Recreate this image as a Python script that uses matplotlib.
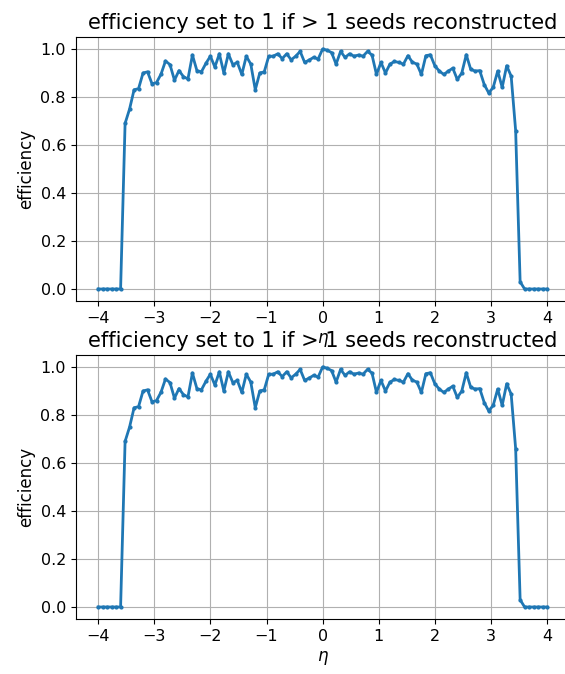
import numpy as np
import matplotlib.pyplot as plt

# eta bin positions and seed reconstruction efficiency per bin
eta = np.linspace(-4, 4, 101)
efficiency = [
    0, 0, 0, 0, 0, 0,
    0.69, 0.75, 0.83, 0.835, 0.90, 0.905, 0.855, 0.86, 0.895, 0.95,
    0.935, 0.87, 0.91, 0.885, 0.875, 0.975, 0.91, 0.905, 0.94, 0.97,
    0.925, 0.98, 0.90, 0.98, 0.935, 0.944, 0.894, 0.97, 0.937, 0.83,
    0.90, 0.905, 0.97, 0.97, 0.98, 0.96, 0.98, 0.955, 0.97, 0.99,
    0.944, 0.954, 0.965, 0.958, 1.0, 0.995, 0.985, 0.937, 0.99, 0.965,
    0.98, 0.97, 0.975, 0.97, 0.99, 0.975, 0.894, 0.944, 0.90, 0.937,
    0.948, 0.944, 0.937, 0.972, 0.945, 0.937, 0.894, 0.972, 0.976, 0.93,
    0.908, 0.894, 0.908, 0.92, 0.873, 0.90, 0.976, 0.915, 0.908, 0.91,
    0.852, 0.817, 0.84, 0.908, 0.84, 0.93, 0.887,
    0.66, 0.03,
    0, 0, 0, 0, 0, 0,
]

title = 'efficiency set to 1 if > 1 seeds reconstructed'

plt.rcParams['xtick.labelsize'] = 11.5
plt.rcParams['ytick.labelsize'] = 11.5

fig, axes = plt.subplots(2, 1, figsize=(5.65, 6.74), dpi=100)
axes[0].set_position([0.134, 0.5534, 0.874, 0.3917])
axes[1].set_position([0.134, 0.0816, 0.874, 0.3917])

for ax in axes:
    ax.plot(eta, efficiency, '.-', color='#1f77b4', linewidth=2, markersize=4)
    ax.set_title(title, fontsize=15)
    ax.set_xlabel(r'$\eta$', fontsize=12)
    ax.set_ylabel('efficiency', fontsize=12)
    ax.grid(True)

plt.savefig('out.png', dpi=100)
